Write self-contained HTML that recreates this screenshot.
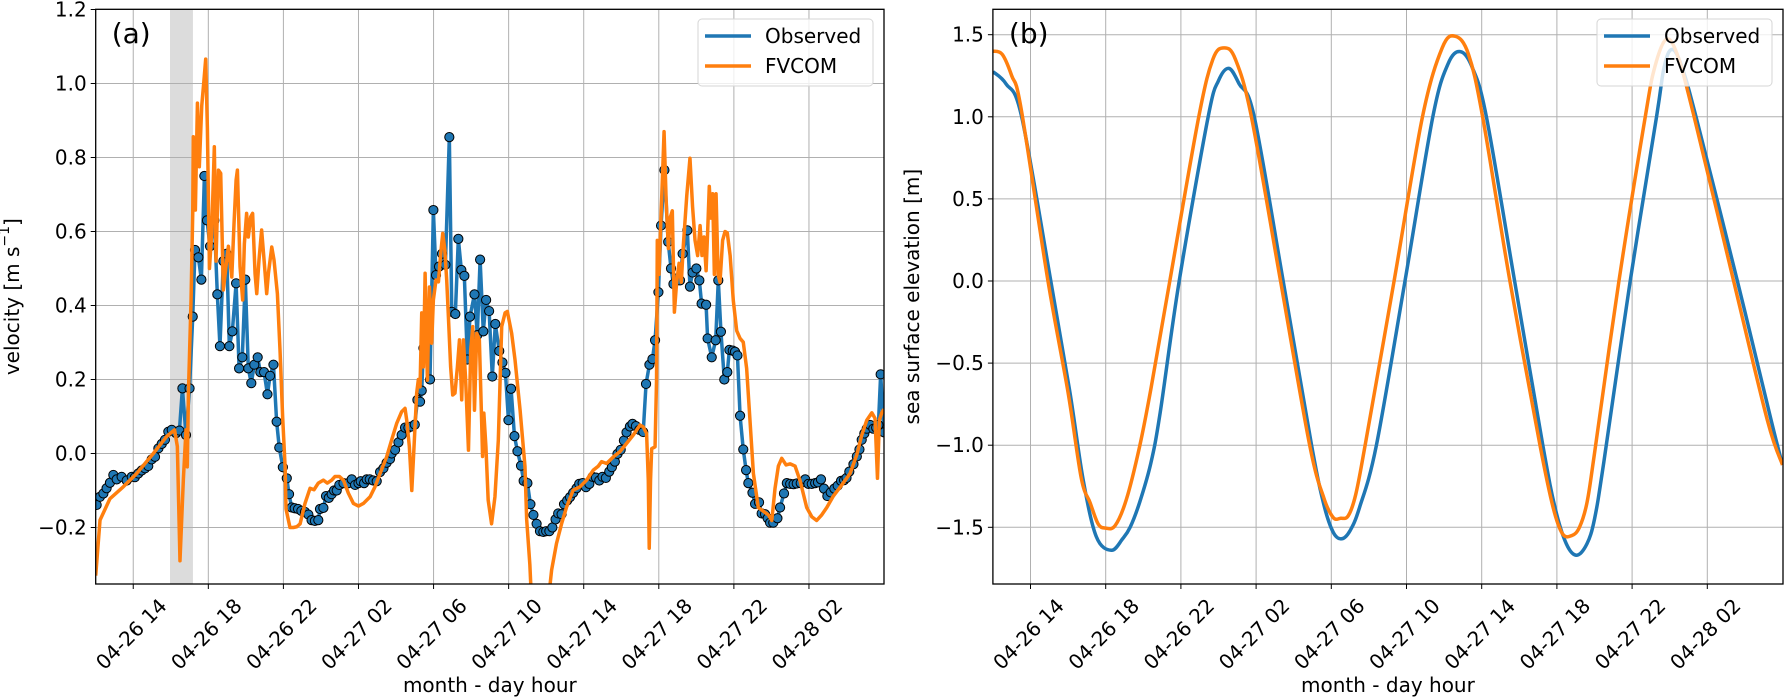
<!DOCTYPE html>
<html><head><meta charset="utf-8"><style>
html,body{margin:0;padding:0;background:#fff;}
svg{display:block;font-family:"DejaVu Sans","Liberation Sans",sans-serif;}
</style></head><body>
<svg id="fig" width="1784" height="700" viewBox="0 0 1784 700" xmlns="http://www.w3.org/2000/svg">
<defs>
<clipPath id="clipA"><rect x="95.7" y="9.3" width="788.3" height="574.7"/></clipPath>
<clipPath id="clipB"><rect x="992.9" y="9.3" width="790" height="574.7"/></clipPath>
</defs>
<g id="panelA"></g>
<g id="panelB"></g>
</svg>
<script>
const tickLabels = ["04-26 14","04-26 18","04-26 22","04-27 02","04-27 06","04-27 10","04-27 14","04-27 18","04-27 22","04-28 02"];
const tickHours = [2,6,10,14,18,22,26,30,34,38];
const velTicks = [1.2,1.0,0.8,0.6,0.4,0.2,0.0,-0.2];
const sshTicks = [1.5,1.0,0.5,0.0,-0.5,-1.0,-1.5];
const shadeHours = [3.96,5.18];

const obsT = [0.05,0.23,0.41,0.58,0.76,0.94,1.12,1.38,1.65,1.92,2.09,2.27,2.45,2.63,2.8,2.98,3.16,3.34,3.52,3.69,3.87,4.05,4.28,4.46,4.62,4.81,5.0,5.17,5.29,5.47,5.63,5.79,5.93,6.09,6.32,6.48,6.62,6.8,6.98,7.12,7.28,7.48,7.64,7.81,7.97,8.13,8.29,8.45,8.63,8.77,8.97,9.15,9.29,9.47,9.64,9.78,9.97,10.18,10.3,10.44,10.6,10.78,10.96,11.15,11.33,11.5,11.68,11.86,11.95,12.13,12.27,12.42,12.57,12.7,12.84,12.98,13.2,13.46,13.64,13.82,14.0,14.12,14.3,14.44,14.6,14.78,14.97,15.15,15.33,15.5,15.68,15.77,15.95,16.13,16.3,16.48,16.66,16.83,17.0,17.14,17.28,17.37,17.46,17.67,17.81,17.99,18.13,18.29,18.45,18.63,18.84,18.97,19.16,19.32,19.48,19.64,19.8,19.94,20.18,20.33,20.48,20.65,20.8,20.96,21.13,21.29,21.5,21.67,21.83,21.99,22.13,22.31,22.47,22.66,22.8,23.0,23.16,23.32,23.49,23.67,23.85,24.0,24.17,24.33,24.5,24.64,24.82,24.95,25.12,25.27,25.44,25.62,25.76,25.94,26.12,26.3,26.47,26.65,26.83,27.0,27.18,27.36,27.5,27.66,27.8,27.97,28.14,28.28,28.46,28.6,28.78,28.96,29.17,29.32,29.5,29.66,29.8,29.98,30.12,30.3,30.5,30.65,30.78,30.95,31.13,31.27,31.52,31.66,31.8,32.0,32.16,32.28,32.52,32.6,32.82,33.03,33.17,33.31,33.49,33.65,33.76,33.94,34.06,34.19,34.33,34.5,34.65,34.77,34.99,35.13,35.34,35.48,35.66,35.8,35.93,36.1,36.32,36.46,36.67,36.82,37.0,37.18,37.35,37.56,37.8,37.97,38.15,38.33,38.48,38.64,38.8,38.98,39.16,39.35,39.53,39.71,39.87,40.0,40.15,40.37,40.55,40.69,40.81,40.95,41.08,41.26,41.43,41.58,41.7,41.82,42.0];
const obsV = [-0.139,-0.117,-0.108,-0.094,-0.079,-0.058,-0.07,-0.063,-0.073,-0.063,-0.064,-0.054,-0.046,-0.04,-0.034,-0.016,-0.009,0.014,0.026,0.037,0.059,0.064,0.055,0.062,0.176,0.05,0.176,0.37,0.55,0.53,0.47,0.75,0.63,0.56,0.63,0.43,0.29,0.52,0.54,0.29,0.33,0.46,0.23,0.26,0.47,0.23,0.19,0.24,0.26,0.22,0.22,0.16,0.21,0.24,0.086,0.016,-0.037,-0.067,-0.11,-0.146,-0.148,-0.15,-0.155,-0.158,-0.165,-0.18,-0.182,-0.18,-0.15,-0.147,-0.115,-0.12,-0.11,-0.1,-0.1,-0.085,-0.08,-0.08,-0.07,-0.085,-0.08,-0.075,-0.08,-0.07,-0.07,-0.073,-0.075,-0.05,-0.04,-0.025,-0.015,0.0,0.01,0.03,0.05,0.07,0.07,0.073,0.078,0.145,0.14,0.17,0.285,0.32,0.2,0.658,0.482,0.505,0.54,0.51,0.855,0.383,0.377,0.58,0.496,0.48,0.254,0.37,0.43,0.32,0.524,0.33,0.415,0.385,0.208,0.35,0.277,0.246,0.218,0.09,0.175,0.047,0.006,-0.033,-0.074,-0.08,-0.137,-0.166,-0.19,-0.21,-0.212,-0.21,-0.21,-0.2,-0.178,-0.162,-0.164,-0.137,-0.127,-0.118,-0.106,-0.094,-0.082,-0.08,-0.091,-0.082,-0.063,-0.065,-0.073,-0.063,-0.066,-0.049,-0.037,-0.022,-0.001,0.01,0.035,0.057,0.073,0.08,0.074,0.064,0.058,0.188,0.24,0.255,0.306,0.436,0.616,0.766,0.572,0.5,0.458,0.473,0.468,0.54,0.603,0.451,0.489,0.5,0.468,0.405,0.402,0.311,0.26,0.306,0.468,0.329,0.2,0.22,0.28,0.278,0.275,0.265,0.102,0.011,-0.045,-0.08,-0.106,-0.136,-0.132,-0.162,-0.164,-0.175,-0.187,-0.187,-0.175,-0.146,-0.108,-0.08,-0.082,-0.083,-0.081,-0.08,-0.07,-0.082,-0.082,-0.08,-0.078,-0.07,-0.095,-0.115,-0.105,-0.095,-0.087,-0.074,-0.072,-0.066,-0.049,-0.029,-0.008,0.011,0.037,0.054,0.067,0.077,0.067,0.07,0.077,0.214,0.057];

const fvT = [0,0.23,0.76,1.47,2.18,3.07,3.78,4.2,4.35,4.49,4.67,4.81,4.88,4.94,5.08,5.17,5.2,5.31,5.42,5.52,5.65,5.77,5.86,5.95,6.06,6.18,6.32,6.41,6.54,6.66,6.8,6.94,7.07,7.25,7.37,7.48,7.55,7.69,7.83,7.92,8.04,8.13,8.26,8.36,8.49,8.58,8.7,8.84,8.97,9.11,9.2,9.38,9.5,9.68,9.82,9.96,10.09,10.14,10.35,10.53,10.71,10.89,11.15,11.42,11.63,11.86,12.13,12.34,12.57,12.75,12.98,13.2,13.46,13.73,14.0,14.26,14.62,14.88,15.15,15.5,15.77,16.04,16.3,16.48,16.57,16.71,16.84,16.96,17.1,17.19,17.28,17.37,17.46,17.55,17.67,17.78,17.9,17.99,18.13,18.26,18.38,18.49,18.6,18.7,18.79,18.91,19.02,19.14,19.27,19.38,19.5,19.59,19.71,19.86,19.98,20.09,20.18,20.3,20.44,20.56,20.61,20.68,20.79,20.91,21.09,21.27,21.45,21.63,21.81,21.93,22.16,22.34,22.61,22.87,22.96,23.13,23.22,24.11,24.29,24.55,24.82,25.09,25.44,25.8,26.15,26.51,26.78,26.95,27.22,27.58,27.93,28.28,28.64,29.0,29.17,29.35,29.44,29.49,29.56,29.62,29.8,29.88,29.92,30.01,30.1,30.21,30.28,30.39,30.51,30.6,30.72,30.83,30.95,31.08,31.2,31.31,31.49,31.66,31.8,31.93,32.07,32.2,32.3,32.41,32.52,32.6,32.69,32.78,32.87,32.96,33.05,33.16,33.26,33.4,33.53,33.65,33.8,33.97,34.15,34.33,34.5,34.68,34.86,35.04,35.3,35.57,35.84,36.02,36.19,36.37,36.55,36.78,37.0,37.26,37.53,37.88,38.15,38.41,38.68,38.95,39.3,39.75,40.19,40.55,40.81,41.08,41.35,41.52,41.65,41.75,41.88,42.0];
const fvV = [-0.33,-0.18,-0.122,-0.09,-0.054,0.0,0.046,0.064,0.019,-0.29,-0.07,0.064,-0.036,0.163,0.415,0.65,0.856,0.658,0.947,0.775,0.94,1.01,1.066,0.88,0.5,0.595,0.829,0.52,0.766,0.757,0.442,0.505,0.56,0.477,0.622,0.739,0.766,0.505,0.415,0.567,0.649,0.585,0.64,0.649,0.486,0.432,0.523,0.604,0.523,0.432,0.486,0.558,0.523,0.432,0.279,0.099,-0.035,-0.15,-0.2,-0.2,-0.198,-0.19,-0.135,-0.094,-0.098,-0.08,-0.072,-0.08,-0.072,-0.062,-0.062,-0.072,-0.107,-0.135,-0.142,-0.135,-0.117,-0.09,-0.054,-0.009,0.037,0.082,0.113,0.122,0.09,0.019,-0.1,0.019,0.163,0.2,0.18,0.38,0.234,0.487,0.198,0.45,0.298,0.415,0.469,0.464,0.54,0.595,0.55,0.469,0.37,0.234,0.158,0.163,0.234,0.307,0.145,0.307,0.198,0.009,0.28,0.343,0.117,0.325,0.307,0.09,-0.008,0.109,0.018,-0.126,-0.19,-0.117,0.036,0.343,0.38,0.384,0.325,0.253,0.117,-0.035,-0.178,-0.3,-0.4,-0.4,-0.315,-0.243,-0.19,-0.144,-0.099,-0.09,-0.072,-0.045,-0.034,-0.022,-0.027,-0.009,0.005,0.027,0.05,0.077,0.072,0.054,-0.072,-0.256,-0.072,0.013,0.018,0.2,0.576,0.484,0.616,0.768,0.87,0.687,0.554,0.636,0.656,0.382,0.463,0.514,0.463,0.565,0.697,0.798,0.666,0.576,0.535,0.616,0.535,0.585,0.494,0.596,0.722,0.636,0.702,0.484,0.702,0.484,0.463,0.576,0.6,0.596,0.535,0.413,0.332,0.311,0.301,0.23,0.088,-0.054,-0.146,-0.156,-0.166,-0.181,-0.095,-0.034,-0.013,-0.031,-0.028,-0.034,-0.074,-0.146,-0.171,-0.181,-0.166,-0.146,-0.115,-0.085,-0.054,-0.003,0.049,0.09,0.11,0.095,-0.067,0.09,0.11,0.12];

const sshObsT = [0,0.7,1.53,3.08,4.1,4.8,5.5,6.3,6.9,7.3,7.8,8.4,8.9,9.91,11.45,12.0,12.55,13.1,13.9,15.44,16.95,17.6,18.1,18.55,19.0,19.5,20.4,21.92,23.4,24.2,24.86,25.5,26.25,27.75,29.25,29.9,30.5,31.05,31.6,32.0,32.5,33.9,35.3,35.7,36.1,36.6,37.4,39.6,41.4,42.0];
const sshObsV = [1.275,1.2,1.0,0.0,-0.68,-1.21,-1.557,-1.64,-1.57,-1.5,-1.35,-1.11,-0.8,0.0,1.0,1.22,1.295,1.2,1.0,0.0,-1.0,-1.36,-1.53,-1.57,-1.52,-1.38,-1.0,0.0,1.0,1.32,1.397,1.3,1.0,0.0,-1.0,-1.38,-1.6,-1.67,-1.6,-1.45,-1.1,0.0,1.0,1.3,1.41,1.32,1.0,0.0,-0.85,-1.12];
const sshFvT = [0,0.5,1.0,1.5,2.93,4.0,4.7,5.17,5.6,6.0,6.5,7.1,7.8,8.4,9.41,10.95,11.7,12.3,12.9,13.75,15.3,16.85,17.6,18.1,18.5,18.9,19.3,19.8,21.34,22.85,23.9,24.6,25.3,26.05,27.5,29.1,29.8,30.3,30.8,31.2,31.6,32.0,33.3,34.7,35.2,35.8,36.4,37.3,39.4,41.2,42.0];
const sshFvV = [1.4,1.38,1.25,1.05,0.0,-0.68,-1.2,-1.35,-1.48,-1.505,-1.49,-1.33,-1.01,-0.66,0.0,1.0,1.35,1.42,1.35,1.0,0.0,-1.0,-1.32,-1.44,-1.445,-1.43,-1.3,-1.0,0.0,1.0,1.42,1.49,1.38,1.0,0.0,-1.0,-1.38,-1.54,-1.55,-1.5,-1.35,-1.05,0.0,1.0,1.3,1.47,1.38,1.0,0.0,-0.85,-1.12];

const NS = "http://www.w3.org/2000/svg";
function mk(parent, tag, attrs, text){
  const e = document.createElementNS(NS, tag);
  for (const k in attrs) e.setAttribute(k, attrs[k]);
  if (text !== undefined) e.textContent = text;
  parent.appendChild(e);
  return e;
}
const A = {x0:95.7, x1:884, y0:9.3, y1:584, X:t=>95.7+t*18.77, Y:v=>453.5-v*370};
const B = {x0:992.9, x1:1783, y0:9.3, y1:584, X:t=>992.9+t*18.8, Y:v=>281-v*164.2};
const fmt = v => (v<0?"\u2212":"") + Math.abs(v).toFixed(1);

function axes(g, S, yticks){
  tickHours.forEach((h,i)=>{
    const x = S.X(h);
    const gl = mk(g,"line",{x1:x,x2:x,y1:S.y0,y2:S.y1,stroke:"#b0b0b0","stroke-width":1});
    
    
  });
  yticks.forEach(v=>{
    const y = S.Y(v);
    const gl = mk(g,"line",{x1:S.x0,x2:S.x1,y1:y,y2:y,stroke:"#b0b0b0","stroke-width":1});
    
    
  });
}
function frame(g, S, yticks, ylabel, ylabelX, tag){
  const r = mk(g,"rect",{x:S.x0,y:S.y0,width:S.x1-S.x0,height:S.y1-S.y0,fill:"none",stroke:"#000","stroke-width":1.3});
  
  
  tickHours.forEach((h,i)=>{
    const x = S.X(h);
    mk(g,"line",{x1:x,x2:x,y1:S.y1,y2:S.y1+5,stroke:"#000","stroke-width":1});
    const t = mk(g,"text",{x:0,y:0,"font-size":20,"text-anchor":"middle","dominant-baseline":"central",transform:`translate(${x-2},${S.y1+50}) rotate(-45)`}, tickLabels[i]);
    
    
  });
  yticks.forEach(v=>{
    const y = S.Y(v);
    mk(g,"line",{x1:S.x0-5,x2:S.x0,y1:y,y2:y,stroke:"#000","stroke-width":1});
    const t = mk(g,"text",{x:S.x0-9,y:y,"font-size":20,"text-anchor":"end","dominant-baseline":"central"}, fmt(v));
    
    
  });
  const xl = mk(g,"text",{x:(S.x0+S.x1)/2,y:692,"font-size":20,"text-anchor":"middle"},"month - day hour");
  
  
  const yl = mk(g,"text",{x:0,y:0,"font-size":20,"text-anchor":"middle","dominant-baseline":"central",transform:`translate(${ylabelX},${(S.y0+S.y1)/2}) rotate(-90)`});
  
  
  if (typeof ylabel === "string") yl.textContent = ylabel;
  else { yl.appendChild(document.createTextNode(ylabel[0])); mk(yl,"tspan",{"font-size":14,dy:-7},ylabel[1]); mk(yl,"tspan",{dy:7},ylabel[2]); }
  const pl = mk(g,"text",{x:S.x0+16,y:43,"font-size":28},tag);
  
  
  const lx = S.x1-186;
  const lg = mk(g,"g",{});
  
  
  mk(lg,"rect",{x:lx,y:19,width:175,height:67,rx:4,fill:"#fff","fill-opacity":0.8,stroke:"#d6d6d6","stroke-width":1});
  [["Observed","#1f77b4",36],["FVCOM","#ff7f0e",66]].forEach(([n,c,y])=>{
    const e = mk(lg,"g",{});
    
    
    mk(e,"line",{x1:lx+7,x2:lx+53,y1:y,y2:y,stroke:c,"stroke-width":3.5});
    mk(e,"text",{x:lx+67,y:y,"font-size":20,"dominant-baseline":"central"},n);
  });
}
function linePath(S, ts, vs){
  return ts.map((t,i)=>(i?"L":"M")+S.X(t).toFixed(2)+" "+S.Y(vs[i]).toFixed(2)).join(" ");
}
function smoothPath(S, ts, vs){
  const p = ts.map((t,i)=>[S.X(t),S.Y(vs[i])]);
  let d = `M${p[0][0]} ${p[0][1]}`;
  for (let i=0;i<p.length-1;i++){
    const p0=p[Math.max(0,i-1)], p1=p[i], p2=p[i+1], p3=p[Math.min(p.length-1,i+2)];
    const c1=[p1[0]+(p2[0]-p0[0])/6, p1[1]+(p2[1]-p0[1])/6];
    const c2=[p2[0]-(p3[0]-p1[0])/6, p2[1]-(p3[1]-p1[1])/6];
    d += ` C${c1[0].toFixed(2)} ${c1[1].toFixed(2)} ${c2[0].toFixed(2)} ${c2[1].toFixed(2)} ${p2[0].toFixed(2)} ${p2[1].toFixed(2)}`;
  }
  return d;
}

// Panel A
const gA = document.getElementById("panelA");
const shade = mk(gA,"rect",{x:A.X(shadeHours[0]),y:A.y0,width:A.X(shadeHours[1])-A.X(shadeHours[0]),height:A.y1-A.y0,fill:"#dcdcdc"});


axes(gA, A, velTicks);
const dA = mk(gA,"g",{"clip-path":"url(#clipA)"});
const obsLine = mk(dA,"path",{d:linePath(A,obsT,obsV),fill:"none",stroke:"#1f77b4","stroke-width":3.5,"stroke-linejoin":"round"});


const mkG = mk(dA,"g",{});


obsT.forEach((t,i)=>{
  const c = mk(mkG,"circle",{cx:A.X(t),cy:A.Y(obsV[i]),r:4.6,fill:"#1f77b4",stroke:"#000","stroke-width":1});
  
  
});
const fvLine = mk(dA,"path",{d:linePath(A,fvT,fvV),fill:"none",stroke:"#ff7f0e","stroke-width":3.5,"stroke-linejoin":"round"});


frame(gA, A, velTicks, ["velocity [m s","\u22121","]"], 12, "(a)");

// Panel B
const gB = document.getElementById("panelB");
axes(gB, B, sshTicks);
const dB = mk(gB,"g",{"clip-path":"url(#clipB)"});
const sObs = mk(dB,"path",{d:smoothPath(B,sshObsT,sshObsV),fill:"none",stroke:"#1f77b4","stroke-width":3.5});


const sFv = mk(dB,"path",{d:smoothPath(B,sshFvT,sshFvV),fill:"none",stroke:"#ff7f0e","stroke-width":3.5});


frame(gB, B, sshTicks, "sea surface elevation [m]", 912, "(b)");
</script>
</body></html>
